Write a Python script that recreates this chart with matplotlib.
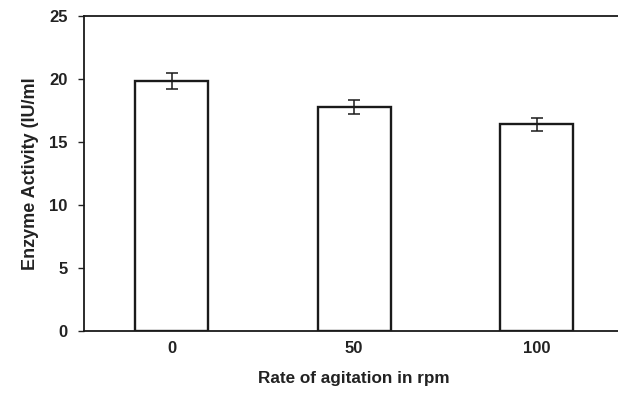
import matplotlib

matplotlib.use("Agg")
import matplotlib.pyplot as plt

plt.rcParams["font.family"] = ["Liberation Sans", "DejaVu Sans"]
plt.rcParams["font.weight"] = "bold"

# agitation rate (rpm) and enzyme activity (IU/ml)
categories = ["0", "50", "100"]
activity = [19.85, 17.8, 16.4]
errors = [0.6, 0.55, 0.5]
yticks = [0, 5, 10, 15, 20, 25]

fig = plt.figure(figsize=(6.18, 3.95), dpi=100)
ax = fig.add_axes([0.136, 0.162, 0.874, 0.797])

x = list(range(len(categories)))
ax.bar(x, activity, width=0.4, color="white", edgecolor="#1a1a1a", linewidth=1.7, zorder=2)
ax.errorbar(x, activity, yerr=errors, fmt="none", ecolor="#1a1a1a",
            elinewidth=1.1, capsize=4.5, capthick=1.1, zorder=3)

ax.set_xlim(-0.48, 2.48)
ax.set_ylim(0, 25)
ax.set_yticks(yticks)
ax.set_xticks(x)
ax.set_xticklabels(categories)
ax.tick_params(axis="x", length=0, pad=7, labelsize=12, colors="#222222")
ax.tick_params(axis="y", length=4, width=1, pad=8, labelsize=12, direction="out",
               colors="#222222")

for s in ax.spines.values():
    s.set_linewidth(1.3)
    s.set_color("#1a1a1a")

ax.set_xlabel("Rate of agitation in rpm", fontsize=12.3, fontweight="bold",
              labelpad=11, color="#222222")
ax.set_ylabel("Enzyme Activity (IU/ml", fontsize=13, fontweight="bold",
              labelpad=7, color="#222222")

fig.savefig("out.png", dpi=100)
